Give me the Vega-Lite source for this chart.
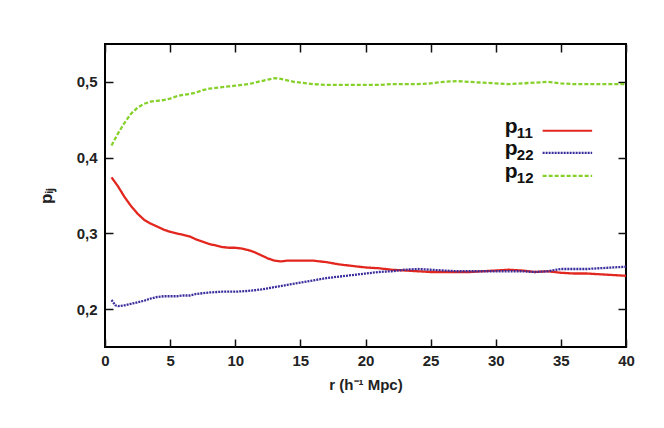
{
  "$schema": "https://vega.github.io/schema/vega-lite/v6.json",
  "width": 521,
  "height": 303,
  "autosize": {"type": "none"},
  "padding": {"left": 105, "top": 44, "right": 38, "bottom": 81},
  "background": "white",
  "config": {
    "view": {"stroke": "black", "strokeWidth": 2},
    "axis": {
      "grid": false,
      "domain": false,
      "tickSize": -8,
      "tickWidth": 1.5,
      "tickColor": "#111",
      "labelFont": "Liberation Sans",
      "labelFontWeight": "bold",
      "labelFontSize": 15,
      "labelColor": "#222",
      "titleFont": "Liberation Sans",
      "titleFontWeight": "bold",
      "titleColor": "#222"
    }
  },
  "datasets": {
    "curves": [
      {"r": 0.5, "p": 0.374, "s": "p11"}, {"r": 1.0, "p": 0.362, "s": "p11"}, {"r": 1.5, "p": 0.348, "s": "p11"}, {"r": 2.0, "p": 0.336, "s": "p11"}, {"r": 2.5, "p": 0.326, "s": "p11"}, {"r": 3.0, "p": 0.318, "s": "p11"}, {"r": 3.5, "p": 0.313, "s": "p11"}, {"r": 4.0, "p": 0.309, "s": "p11"}, {"r": 4.5, "p": 0.305, "s": "p11"}, {"r": 5.0, "p": 0.302, "s": "p11"}, {"r": 5.5, "p": 0.300, "s": "p11"}, {"r": 6.0, "p": 0.298, "s": "p11"}, {"r": 6.5, "p": 0.296, "s": "p11"}, {"r": 7.0, "p": 0.292, "s": "p11"}, {"r": 7.5, "p": 0.289, "s": "p11"}, {"r": 8.0, "p": 0.286, "s": "p11"}, {"r": 8.5, "p": 0.284, "s": "p11"}, {"r": 9.0, "p": 0.282, "s": "p11"}, {"r": 9.5, "p": 0.281, "s": "p11"}, {"r": 10.0, "p": 0.281, "s": "p11"}, {"r": 10.5, "p": 0.280, "s": "p11"}, {"r": 11.0, "p": 0.278, "s": "p11"}, {"r": 11.5, "p": 0.275, "s": "p11"}, {"r": 12.0, "p": 0.271, "s": "p11"}, {"r": 12.5, "p": 0.267, "s": "p11"}, {"r": 13.0, "p": 0.264, "s": "p11"}, {"r": 13.5, "p": 0.263, "s": "p11"}, {"r": 14.0, "p": 0.264, "s": "p11"}, {"r": 15.0, "p": 0.264, "s": "p11"}, {"r": 16.0, "p": 0.264, "s": "p11"}, {"r": 17.0, "p": 0.262, "s": "p11"}, {"r": 18.0, "p": 0.259, "s": "p11"}, {"r": 19.0, "p": 0.257, "s": "p11"}, {"r": 20.0, "p": 0.255, "s": "p11"}, {"r": 21.0, "p": 0.254, "s": "p11"}, {"r": 22.0, "p": 0.252, "s": "p11"}, {"r": 23.0, "p": 0.251, "s": "p11"}, {"r": 24.0, "p": 0.250, "s": "p11"}, {"r": 25.0, "p": 0.249, "s": "p11"}, {"r": 26.0, "p": 0.249, "s": "p11"}, {"r": 27.0, "p": 0.249, "s": "p11"}, {"r": 28.0, "p": 0.249, "s": "p11"}, {"r": 29.0, "p": 0.250, "s": "p11"}, {"r": 30.0, "p": 0.251, "s": "p11"}, {"r": 31.0, "p": 0.252, "s": "p11"}, {"r": 32.0, "p": 0.251, "s": "p11"}, {"r": 33.0, "p": 0.249, "s": "p11"}, {"r": 34.0, "p": 0.250, "s": "p11"}, {"r": 35.0, "p": 0.248, "s": "p11"}, {"r": 36.0, "p": 0.247, "s": "p11"}, {"r": 37.0, "p": 0.247, "s": "p11"}, {"r": 38.0, "p": 0.246, "s": "p11"}, {"r": 39.0, "p": 0.245, "s": "p11"}, {"r": 40.0, "p": 0.244, "s": "p11"},
      {"r": 0.5, "p": 0.212, "s": "p22"}, {"r": 0.8, "p": 0.205, "s": "p22"}, {"r": 1.0, "p": 0.204, "s": "p22"}, {"r": 1.5, "p": 0.205, "s": "p22"}, {"r": 2.0, "p": 0.207, "s": "p22"}, {"r": 2.5, "p": 0.209, "s": "p22"}, {"r": 3.0, "p": 0.211, "s": "p22"}, {"r": 3.5, "p": 0.214, "s": "p22"}, {"r": 4.0, "p": 0.216, "s": "p22"}, {"r": 4.5, "p": 0.217, "s": "p22"}, {"r": 5.0, "p": 0.217, "s": "p22"}, {"r": 5.5, "p": 0.217, "s": "p22"}, {"r": 6.0, "p": 0.218, "s": "p22"}, {"r": 6.5, "p": 0.218, "s": "p22"}, {"r": 7.0, "p": 0.220, "s": "p22"}, {"r": 7.5, "p": 0.221, "s": "p22"}, {"r": 8.0, "p": 0.222, "s": "p22"}, {"r": 9.0, "p": 0.223, "s": "p22"}, {"r": 10.0, "p": 0.223, "s": "p22"}, {"r": 11.0, "p": 0.224, "s": "p22"}, {"r": 12.0, "p": 0.226, "s": "p22"}, {"r": 13.0, "p": 0.229, "s": "p22"}, {"r": 14.0, "p": 0.232, "s": "p22"}, {"r": 15.0, "p": 0.235, "s": "p22"}, {"r": 16.0, "p": 0.238, "s": "p22"}, {"r": 17.0, "p": 0.241, "s": "p22"}, {"r": 18.0, "p": 0.243, "s": "p22"}, {"r": 19.0, "p": 0.245, "s": "p22"}, {"r": 20.0, "p": 0.247, "s": "p22"}, {"r": 21.0, "p": 0.249, "s": "p22"}, {"r": 22.0, "p": 0.250, "s": "p22"}, {"r": 23.0, "p": 0.252, "s": "p22"}, {"r": 24.0, "p": 0.253, "s": "p22"}, {"r": 25.0, "p": 0.252, "s": "p22"}, {"r": 26.0, "p": 0.251, "s": "p22"}, {"r": 27.0, "p": 0.250, "s": "p22"}, {"r": 28.0, "p": 0.250, "s": "p22"}, {"r": 29.0, "p": 0.250, "s": "p22"}, {"r": 30.0, "p": 0.250, "s": "p22"}, {"r": 31.0, "p": 0.250, "s": "p22"}, {"r": 32.0, "p": 0.250, "s": "p22"}, {"r": 33.0, "p": 0.249, "s": "p22"}, {"r": 34.0, "p": 0.250, "s": "p22"}, {"r": 35.0, "p": 0.253, "s": "p22"}, {"r": 36.0, "p": 0.253, "s": "p22"}, {"r": 37.0, "p": 0.253, "s": "p22"}, {"r": 38.0, "p": 0.254, "s": "p22"}, {"r": 39.0, "p": 0.255, "s": "p22"}, {"r": 40.0, "p": 0.256, "s": "p22"},
      {"r": 0.5, "p": 0.416, "s": "p12"}, {"r": 1.0, "p": 0.432, "s": "p12"}, {"r": 1.5, "p": 0.446, "s": "p12"}, {"r": 2.0, "p": 0.458, "s": "p12"}, {"r": 2.5, "p": 0.466, "s": "p12"}, {"r": 3.0, "p": 0.471, "s": "p12"}, {"r": 3.5, "p": 0.474, "s": "p12"}, {"r": 4.0, "p": 0.475, "s": "p12"}, {"r": 4.5, "p": 0.476, "s": "p12"}, {"r": 5.0, "p": 0.478, "s": "p12"}, {"r": 5.5, "p": 0.481, "s": "p12"}, {"r": 6.0, "p": 0.483, "s": "p12"}, {"r": 6.5, "p": 0.484, "s": "p12"}, {"r": 7.0, "p": 0.486, "s": "p12"}, {"r": 7.5, "p": 0.489, "s": "p12"}, {"r": 8.0, "p": 0.491, "s": "p12"}, {"r": 8.5, "p": 0.492, "s": "p12"}, {"r": 9.0, "p": 0.493, "s": "p12"}, {"r": 9.5, "p": 0.494, "s": "p12"}, {"r": 10.0, "p": 0.495, "s": "p12"}, {"r": 10.5, "p": 0.496, "s": "p12"}, {"r": 11.0, "p": 0.497, "s": "p12"}, {"r": 11.5, "p": 0.499, "s": "p12"}, {"r": 12.0, "p": 0.501, "s": "p12"}, {"r": 12.5, "p": 0.503, "s": "p12"}, {"r": 13.0, "p": 0.505, "s": "p12"}, {"r": 13.5, "p": 0.504, "s": "p12"}, {"r": 14.0, "p": 0.502, "s": "p12"}, {"r": 14.5, "p": 0.500, "s": "p12"}, {"r": 15.0, "p": 0.499, "s": "p12"}, {"r": 16.0, "p": 0.497, "s": "p12"}, {"r": 17.0, "p": 0.496, "s": "p12"}, {"r": 18.0, "p": 0.496, "s": "p12"}, {"r": 19.0, "p": 0.496, "s": "p12"}, {"r": 20.0, "p": 0.496, "s": "p12"}, {"r": 21.0, "p": 0.496, "s": "p12"}, {"r": 22.0, "p": 0.497, "s": "p12"}, {"r": 23.0, "p": 0.497, "s": "p12"}, {"r": 24.0, "p": 0.497, "s": "p12"}, {"r": 25.0, "p": 0.498, "s": "p12"}, {"r": 26.0, "p": 0.500, "s": "p12"}, {"r": 27.0, "p": 0.501, "s": "p12"}, {"r": 28.0, "p": 0.500, "s": "p12"}, {"r": 29.0, "p": 0.499, "s": "p12"}, {"r": 30.0, "p": 0.498, "s": "p12"}, {"r": 31.0, "p": 0.497, "s": "p12"}, {"r": 32.0, "p": 0.498, "s": "p12"}, {"r": 33.0, "p": 0.499, "s": "p12"}, {"r": 34.0, "p": 0.500, "s": "p12"}, {"r": 35.0, "p": 0.498, "s": "p12"}, {"r": 36.0, "p": 0.497, "s": "p12"}, {"r": 37.0, "p": 0.497, "s": "p12"}, {"r": 38.0, "p": 0.497, "s": "p12"}, {"r": 39.0, "p": 0.497, "s": "p12"}, {"r": 40.0, "p": 0.497, "s": "p12"}
    ],
    "legend": [
      {"s": "p11", "sub": "11", "lx": 30.7, "x1": 33.6, "x2": 37.4, "ly": 0.4355},
      {"s": "p22", "sub": "22", "lx": 30.7, "x1": 33.6, "x2": 37.4, "ly": 0.4064},
      {"s": "p12", "sub": "12", "lx": 30.7, "x1": 33.6, "x2": 37.4, "ly": 0.3760}
    ]
  },
  "resolve": {"axis": {"x": "independent", "y": "independent"}},
  "layer": [
    {
      "data": {"name": "curves"},
      "mark": {"type": "line", "strokeWidth": 2.3},
      "encoding": {
        "x": {"field": "r", "type": "quantitative", "scale": {"domain": [0, 40], "nice": false},
              "axis": {"orient": "bottom", "values": [0, 5, 10, 15, 20, 25, 30, 35, 40], "labelPadding": 14, "labelFlush": false, "title": "r (h⁻¹ Mpc)", "titleFontSize": 15, "titlePadding": 9}},
        "y": {"field": "p", "type": "quantitative", "scale": {"domain": [0.15, 0.55], "nice": false, "zero": false},
              "axis": {"orient": "left", "values": [0.2, 0.3, 0.4, 0.5], "labelExpr": "replace(format(datum.value, '.1f'), '.', ',')", "labelPadding": 16, "title": "pᵢⱼ", "titleFontSize": 17, "titlePadding": 21}},
        "color": {"field": "s", "type": "nominal", "scale": {"domain": ["p11", "p22", "p12"], "range": ["#e2271f", "#3a2e9c", "#86d02a"]}, "legend": null},
        "strokeDash": {"field": "s", "type": "nominal", "scale": {"domain": ["p11", "p22", "p12"], "range": [[1, 0], [2, 1], [4, 2]]}, "legend": null}
      }
    },
    {
      "data": {"name": "legend"},
      "mark": {"type": "rule", "strokeWidth": 2.2},
      "encoding": {
        "x": {"field": "x1", "type": "quantitative", "axis": {"orient": "top", "values": [0, 5, 10, 15, 20, 25, 30, 35, 40], "labels": false, "title": null}},
        "x2": {"field": "x2"},
        "y": {"field": "ly", "type": "quantitative", "axis": {"orient": "right", "values": [0.2, 0.3, 0.4, 0.5], "labels": false, "title": null}},
        "color": {"field": "s", "type": "nominal", "legend": null},
        "strokeDash": {"field": "s", "type": "nominal", "legend": null}
      }
    },
    {
      "data": {"name": "legend"},
      "mark": {"type": "text", "text": "p", "align": "left", "baseline": "alphabetic", "font": "Liberation Sans", "fontSize": 21, "fontWeight": "bold", "color": "#111", "dy": 2},
      "encoding": {
        "x": {"field": "lx", "type": "quantitative", "axis": null},
        "y": {"field": "ly", "type": "quantitative", "axis": null}
      }
    },
    {
      "data": {"name": "legend"},
      "mark": {"type": "text", "align": "left", "baseline": "alphabetic", "font": "Liberation Sans", "fontSize": 15, "fontWeight": "bold", "color": "#111", "dx": 12, "dy": 7},
      "encoding": {
        "x": {"field": "lx", "type": "quantitative", "axis": null},
        "y": {"field": "ly", "type": "quantitative", "axis": null},
        "text": {"field": "sub"}
      }
    }
  ]
}
